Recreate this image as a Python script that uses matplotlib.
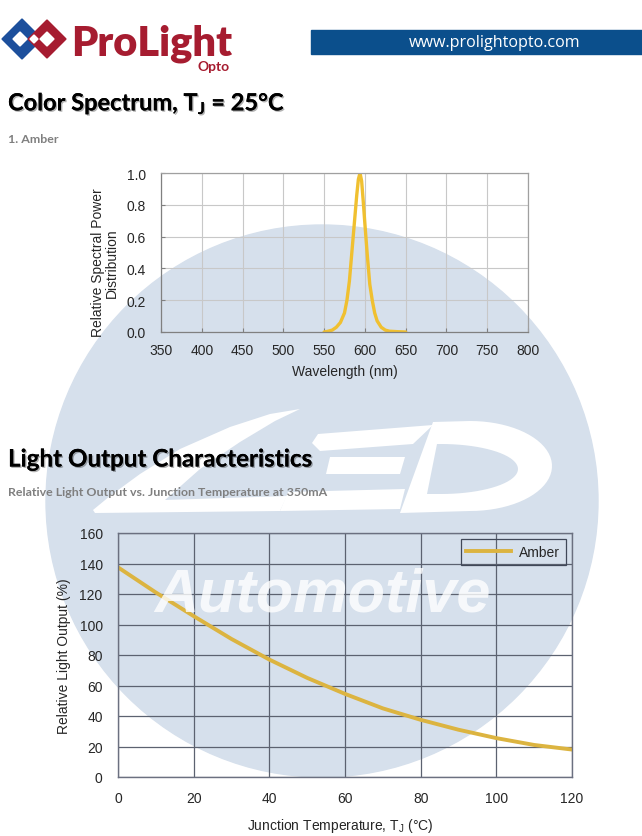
import numpy as np
import matplotlib
matplotlib.use("Agg")
import matplotlib.pyplot as plt
from matplotlib.patches import Circle, Polygon, Rectangle
import matplotlib.patheffects as pe

# ---- data ----
wavelength = [550, 555, 560, 565, 570, 575, 578, 581, 584, 587, 590, 592, 594,
              596, 598, 600, 603, 606, 609, 612, 615, 620, 625, 630, 640, 650]
spectrum = [0.0, 0.005, 0.012, 0.03, 0.06, 0.12, 0.2, 0.32, 0.5, 0.68, 0.86, 0.96, 1.0,
            0.95, 0.82, 0.68, 0.48, 0.30, 0.2, 0.12, 0.07, 0.03, 0.012, 0.005, 0.002, 0.0]

temperature = [0, 10, 20, 30, 40, 50, 60, 70, 80, 90, 100, 110, 120]
light_output = [137.5, 121, 105.5, 90.5, 77, 65, 54.5, 45, 37.5, 31, 25.5, 21, 18]

wl_ticks = [350, 400, 450, 500, 550, 600, 650, 700, 750, 800]
spd_ticks = [0.0, 0.2, 0.4, 0.6, 0.8, 1.0]
temp_ticks = [0, 20, 40, 60, 80, 100, 120]
lo_ticks = [0, 20, 40, 60, 80, 100, 120, 140, 160]

W, H = 642, 837
plt.rcParams['font.family'] = ['Liberation Sans', 'DejaVu Sans']
plt.rcParams['mathtext.default'] = 'regular'

fig = plt.figure(figsize=(W / 100, H / 100), dpi=100)
fig.patch.set_facecolor('white')

# background layer in pixel coordinates
bg = fig.add_axes([0, 0, 1, 1], zorder=-1)
bg.set_xlim(0, W)
bg.set_ylim(H, 0)
bg.axis('off')

circle_col = '#d6e0ec'
bg.add_patch(Circle((322, 502), 276, color=circle_col, zorder=1))

# "LED" watermark shapes
led = dict(color='white', zorder=2, lw=0)
bg.add_patch(Polygon([(300, 410), (270, 415), (230, 428), (180, 450), (140, 475),
                      (110, 497), (93, 511), (95, 514), (280, 512), (287, 497),
                      (165, 501), (200, 470), (240, 443), (275, 422)], **led))
bg.add_patch(Polygon([(318, 435), (433, 426), (413, 445), (320, 452), (312, 444)], **led))
bg.add_patch(Polygon([(330, 458), (405, 458), (400, 475), (326, 475)], **led))
bg.add_patch(Polygon([(288, 493), (405, 490), (400, 510), (280, 512)], **led))
t = np.linspace(-np.pi / 2, np.pi / 2, 40)
outer = [(433, 423)] + [(470 + 82 * np.cos(a), 467 + 45 * np.sin(a)) for a in t] + [(400, 514)]
bg.add_patch(Polygon(outer, **led))
inner = [(437, 445)] + [(441 + 77 * np.cos(a), 470 + 25 * np.sin(a)) for a in t] + [(427, 495)]
bg.add_patch(Polygon(inner, color=circle_col, zorder=3, lw=0))

# header: logo
blue, red = '#1c4f9c', '#a61c30'
def diamond(cx, cy, r, **kw):
    return Polygon([(cx - r, cy), (cx, cy - r), (cx + r, cy), (cx, cy + r)], **kw)
bg.add_patch(diamond(22, 40, 20, color=blue, zorder=4))
bg.add_patch(diamond(47, 40, 19, color=red, zorder=5))
bg.add_patch(diamond(20, 40, 7, color='white', zorder=6))
bg.add_patch(diamond(47, 40, 7, color='white', zorder=6))
bg.add_patch(diamond(34, 40, 4, color='white', zorder=6))
bg.text(71, 55, 'ProLight', fontsize=30, fontweight='heavy', family='Lato',
        color=red, va='baseline', ha='left', zorder=6)
bg.text(214, 67, 'Opto', fontsize=10, fontweight='bold', family='Lato',
        color=red, va='center', ha='center', zorder=6)

bg.add_patch(Rectangle((311, 31), W - 311, 24, color='#0b4f8c', zorder=4))
bg.text(495, 43, 'www.prolightopto.com', fontsize=11.6, family='Open Sans',
        color='white', va='center', ha='center', zorder=6)

# section titles
title_fx = [pe.withSimplePatchShadow(offset=(1, -1), alpha=0.3), pe.Normal()]
bg.text(8, 104, 'Color Spectrum, T$_{J}$ = 25°C', fontsize=17, fontweight='bold',
        family='Lato', color='black', va='center', ha='left', zorder=7,
        path_effects=title_fx)
bg.text(8, 139, '1. Amber', fontsize=8.9, fontweight='bold', family='Lato',
        color='#7f7f7f', va='center', ha='left', zorder=7)
bg.text(8, 460, 'Light Output Characteristics', fontsize=17.4, fontweight='bold',
        family='Lato', color='black', va='center', ha='left', zorder=7,
        path_effects=title_fx)
bg.text(8, 492, 'Relative Light Output vs. Junction Temperature at 350mA', fontsize=8.9,
        fontweight='bold', family='Lato', color='#7f7f7f', va='center', ha='left', zorder=7)

# ---- spectrum chart ----
ax1 = fig.add_axes([161 / W, 1 - 333 / H, 367 / W, 159 / H])
ax1.set_facecolor('none')
ax1.plot(wavelength, spectrum, color='#f0c030', lw=2.4, solid_capstyle='round')
ax1.set_xlim(350, 800)
ax1.set_ylim(0, 1.0)
ax1.set_xticks(wl_ticks)
ax1.set_yticks(spd_ticks)
ax1.set_yticklabels([f'{v:.1f}' for v in spd_ticks])
ax1.grid(True, color='#c8c8c8', lw=0.8)
ax1.set_axisbelow(True)
for s in ax1.spines.values():
    s.set_color('#a0a0a0')
    s.set_linewidth(0.9)
ax1.spines['left'].set_color('#808080')
ax1.spines['bottom'].set_color('#808080')
ax1.tick_params(direction='in', length=3, color='#808080', labelsize=10,
                labelcolor='#262626', pad=8)
ax1.tick_params(axis='y', pad=11)
ax1.set_xlabel('Wavelength (nm)', fontsize=10, color='#262626')
ax1.xaxis.set_label_coords(0.5, -0.245)
ax1.xaxis.label.set_va('center')
ax1.set_ylabel('Relative Spectral Power\nDistribution', fontsize=10, color='#262626',
               linespacing=1.0)
ax1.yaxis.set_label_coords(-0.153, 0.44)
ax1.yaxis.label.set_va('center')

# ---- light output chart ----
ax2 = fig.add_axes([118 / W, 1 - 778 / H, 454 / W, 244 / H])
ax2.set_facecolor('none')
ax2.plot(temperature, light_output, color='#dcb440', lw=2.8, label='Amber')
ax2.set_xlim(0, 120)
ax2.set_ylim(0, 160)
ax2.set_xticks(temp_ticks)
ax2.set_yticks(lo_ticks)
ax2.grid(True, color='#5c6270', lw=0.9)
ax2.set_axisbelow(True)
for s in ax2.spines.values():
    s.set_color('#6b7080')
    s.set_linewidth(1.0)
ax2.tick_params(length=0, labelsize=10, labelcolor='#262626', pad=10)
ax2.tick_params(axis='y', pad=11)
ax2.set_xlabel('Junction Temperature, T$_{J}$ (°C)', fontsize=10, color='#262626')
ax2.xaxis.set_label_coords(0.49, -0.197)
ax2.xaxis.label.set_va('center')
ax2.set_ylabel('Relative Light Output (%)', fontsize=10, color='#262626')
ax2.yaxis.set_label_coords(-0.119, 0.5)
ax2.yaxis.label.set_va('center')
leg = ax2.legend(loc='upper right', fontsize=10, handlelength=3.2, handletextpad=0.6,
                 fancybox=False, framealpha=1, facecolor='none', edgecolor='#404858',
                 borderpad=0.42, borderaxespad=0, bbox_to_anchor=(0.987, 0.975))
leg.get_frame().set_linewidth(0.9)
for txt in leg.get_texts():
    txt.set_color('#262626')

# "Automotive" watermark on top
top = fig.add_axes([0, 0, 1, 1], zorder=10)
top.set_xlim(0, W)
top.set_ylim(H, 0)
top.axis('off')
top.text(322, 612, 'Automotive', fontsize=44, fontweight='bold', fontstyle='italic',
         family='Liberation Sans', color='white', alpha=0.8, ha='center', va='baseline')

fig.savefig('out.png', dpi=100)
